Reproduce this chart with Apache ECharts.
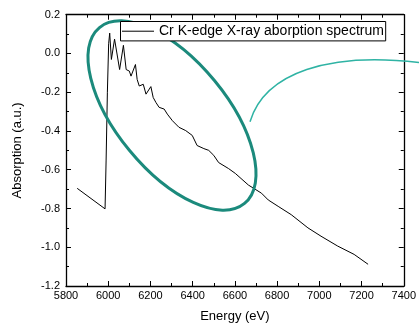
<!DOCTYPE html>
<html>
<head>
<meta charset="utf-8">
<script src="https://cdn.jsdelivr.net/npm/echarts@6/dist/echarts.min.js"></script>
<style>
  html, body { margin: 0; padding: 0; background: #fff; }
  #chart { width: 419px; height: 328px; }
</style>
</head>
<body>
<div id="chart"></div>
<script>
// Cr K-edge XAS: energy (eV) and absorption (a.u.)
const energy = [
  5853, 5985, 5990, 5996, 6002, 6007, 6015, 6030, 6054, 6072,
  6085, 6100, 6108, 6129, 6137, 6147, 6166, 6179, 6202, 6213,
  6226, 6241, 6265, 6280, 6304, 6335, 6367, 6398, 6421, 6453,
  6476, 6500, 6523, 6570, 6602, 6664, 6726, 6758, 6805, 6867,
  6946, 7008, 7087, 7165, 7231
];
const absorption = [
  -0.696, -0.802, -0.55, -0.20, 0.05, 0.105, -0.031, 0.074, -0.083, 0.042,
  -0.083, -0.091, -0.117, -0.057, -0.134, -0.168, -0.159, -0.210, -0.171, -0.227,
  -0.253, -0.278, -0.287, -0.313, -0.347, -0.381, -0.398, -0.423, -0.475, -0.491,
  -0.500, -0.526, -0.563, -0.594, -0.619, -0.679, -0.721, -0.756, -0.789, -0.832,
  -0.900, -0.943, -0.994, -1.037, -1.088
];
const seriesName = 'Cr K-edge X-ray aborption spectrum';
const xTicks = { min: 5800, max: 7400, interval: 200 };
const yTicks = { min: -1.2, max: 0.2, interval: 0.2 };

const points = energy.map((e, i) => [e, absorption[i]]);

const font = 'Liberation Sans, Arial, sans-serif';
const frameAxisLine = { show: true, onZero: false, lineStyle: { color: '#000', width: 1.3 } };
const tickIn = { show: true, inside: true, length: 5, lineStyle: { color: '#000', width: 1 } };
const minorIn = { show: true, splitNumber: 2, length: 3, lineStyle: { color: '#000', width: 1 } };

const chart = echarts.init(document.getElementById('chart'), null, { renderer: 'canvas' });
chart.setOption({
  animation: false,
  backgroundColor: '#fff',
  grid: { left: 66, right: 12.5, top: 14.7, bottom: 39.3, containLabel: false },
  legend: {
    data: [{ name: seriesName, icon: 'rect' }],
    left: 120.5, top: 21.5,
    padding: [2.7, 1.8, 2.7, 1.5],
    backgroundColor: '#fff',
    borderColor: '#000', borderWidth: 1, borderRadius: 0,
    itemWidth: 32, itemHeight: 1, itemGap: 5,
    itemStyle: { color: '#000' },
    textStyle: { fontFamily: font, fontSize: 14, color: '#000' },
    z: 20
  },
  xAxis: [
    {
      type: 'value', position: 'bottom',
      min: xTicks.min, max: xTicks.max, interval: xTicks.interval,
      name: 'Energy (eV)', nameLocation: 'middle', nameGap: 24,
      nameTextStyle: { fontFamily: font, fontSize: 13, color: '#000' },
      axisLine: frameAxisLine, axisTick: tickIn, minorTick: minorIn,
      axisLabel: { fontFamily: font, fontSize: 11, color: '#000', margin: 4, formatter: v => String(v) },
      splitLine: { show: false }
    },
    {
      type: 'value', position: 'top',
      min: xTicks.min, max: xTicks.max, interval: xTicks.interval,
      axisLine: frameAxisLine, axisTick: tickIn, minorTick: minorIn,
      axisLabel: { show: false }, splitLine: { show: false }
    }
  ],
  yAxis: [
    {
      type: 'value', position: 'left',
      min: yTicks.min, max: yTicks.max, interval: yTicks.interval,
      name: 'Absorption (a.u.)', nameLocation: 'middle', nameGap: 42,
      nameTextStyle: { fontFamily: font, fontSize: 13, color: '#000' },
      axisLine: frameAxisLine, axisTick: tickIn, minorTick: minorIn,
      axisLabel: {
        fontFamily: font, fontSize: 11, color: '#000', margin: 6,
        formatter: v => v.toFixed(1)
      },
      splitLine: { show: false }
    },
    {
      type: 'value', position: 'right',
      min: yTicks.min, max: yTicks.max, interval: yTicks.interval,
      axisLine: frameAxisLine, axisTick: tickIn, minorTick: minorIn,
      axisLabel: { show: false }, splitLine: { show: false }
    }
  ],
  series: [{
    name: seriesName,
    type: 'line',
    xAxisIndex: 0, yAxisIndex: 0,
    data: points,
    symbol: 'none',
    lineStyle: { color: '#000', width: 1 },
    itemStyle: { color: '#000' },
    z: 2
  }],
  graphic: [
    {
      // highlight ring around the near-edge region
      type: 'ellipse',
      x: 172, y: 115.5,
      rotation: -50.5 * Math.PI / 180,
      shape: { cx: 0, cy: 0, rx: 114, ry: 55 },
      style: { fill: 'none', stroke: '#1b8a7c', lineWidth: 3 },
      z: 5, silent: true
    },
    {
      // pointer arc leading out to the right
      type: 'bezierCurve',
      shape: { x1: 250, y1: 121.7, cpx1: 265, cpy1: 72, cpx2: 330, cpy2: 52, x2: 419, y2: 62.5 },
      style: { fill: 'none', stroke: '#2fb3a4', lineWidth: 1.5 },
      z: 5, silent: true
    }
  ]
});
</script>
</body>
</html>
